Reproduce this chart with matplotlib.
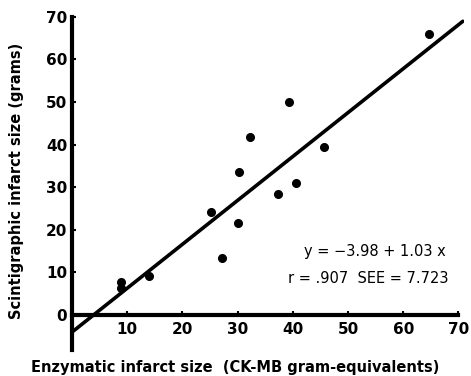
import numpy as np
import matplotlib
matplotlib.use("Agg")
import matplotlib.pyplot as plt

# --- DATA ---
enzymatic = [64.6, 39.3, 32.2, 45.7, 30.3, 40.5, 37.4, 25.1, 30.1, 27.2, 8.9, 8.9, 14.0]
scintigraphic = [66.0, 50.1, 41.9, 39.4, 33.6, 31.1, 28.4, 24.1, 21.5, 13.3, 7.8, 6.3, 9.2]
intercept = -3.98
slope = 1.03
x_ticks = [10, 20, 30, 40, 50, 60, 70]
y_ticks = [0, 10, 20, 30, 40, 50, 60, 70]

fig = plt.figure(figsize=(4.71, 3.76), dpi=100)
ax = fig.add_axes([0.153, 0.069, 0.832, 0.892])

ax.plot(enzymatic, scintigraphic, 'o', color='black', markersize=5.5, zorder=3)

# regression line
xl = np.array([0, 70.8])
ax.plot(xl, intercept + slope * xl, color='black', linewidth=2.6, solid_capstyle='round')

ax.set_xlim(0, 71)
ax.set_ylim(-8.2, 70.5)

for s in ['top', 'right']:
    ax.spines[s].set_visible(False)
ax.spines['bottom'].set_position(('data', 0))
ax.spines['bottom'].set_bounds(0, 70)
ax.spines['left'].set_bounds(-8.2, 70)
ax.spines['bottom'].set_linewidth(3)
ax.spines['left'].set_linewidth(3)

ax.set_xticks(x_ticks)
ax.set_yticks(y_ticks)
ax.tick_params(direction='in', length=3, width=1.5, labelsize=11)
for lab in ax.get_xticklabels() + ax.get_yticklabels():
    lab.set_fontweight('bold')
ax.tick_params(axis='x', pad=5)

ax.text(67.7, 14.9, 'y = \u22123.98 + 1.03 x', ha='right', va='center', fontsize=10.5)
ax.text(68.2, 8.5, 'r = .907  SEE = 7.723', ha='right', va='center', fontsize=10.5)

fig.text(0.5, 0.003, 'Enzymatic infarct size  (CK-MB gram-equivalents)',
         ha='center', va='bottom', fontsize=10.5, fontweight='bold')
fig.text(0.036, 0.52, 'Scintigraphic infarct size (grams)', rotation=90,
         ha='center', va='center', fontsize=10.5, fontweight='bold')

fig.savefig('out.png', dpi=100)
